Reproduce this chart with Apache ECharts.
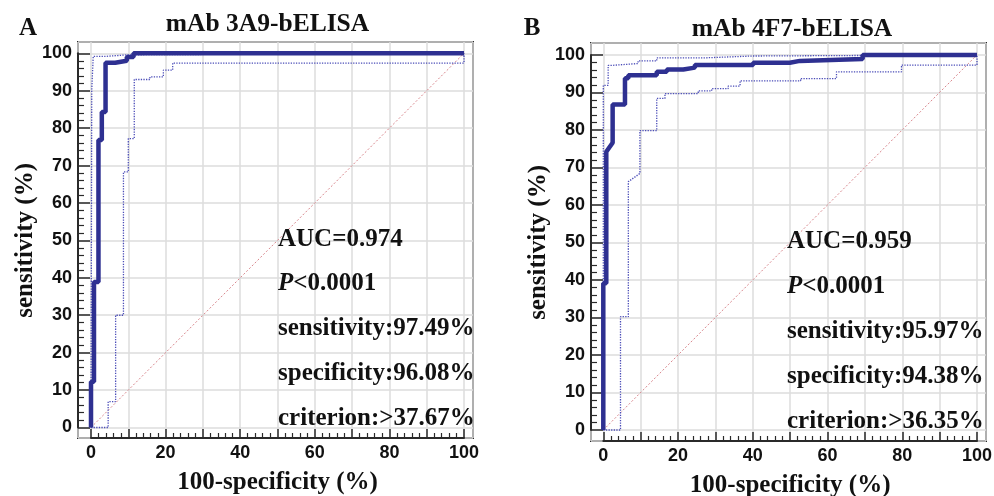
<!DOCTYPE html>
<html><head><meta charset="utf-8">
<script src="https://cdn.jsdelivr.net/npm/echarts@6/dist/echarts.min.js"></script>
<style>html,body{margin:0;padding:0;background:#fff}#c{width:994px;height:496px}</style>
</head><body><div id="c"></div>
<script>
// ---------- data ----------
const panelTitles = ['mAb 3A9-bELISA', 'mAb 4F7-bELISA'];
const panelLetters = ['A', 'B'];
const xTitle = '100-specificity (%)';
const yTitle = 'sensitivity (%)';
const axisMin = 0, axisMax = 100, majorStep = 10, xLabelStep = 20;

// Panel A ROC (100-specificity, sensitivity)
const aRocX = [0, 0, 0.8, 0.8, 2.0, 2.0, 2.9, 2.9, 3.9, 3.9, 6.5, 6.5, 9.6, 9.6, 11.4, 11.4, 100];
const aRocY = [0, 12.2, 12.2, 38.9, 38.9, 76.8, 76.8, 84.3, 84.3, 97.5, 97.5, 98.0, 98.0, 99.0, 99.0, 100, 100];
const aUpperX = [0, 0.2, 0.2, 0.6, 0.6, 4.2, 4.2, 10.0, 10.0, 100];
const aUpperY = [0, 0, 90.1, 90.1, 99.2, 99.2, 99.6, 99.6, 100, 100];
const aLowerX = [0, 4.6, 4.6, 6.6, 6.6, 8.7, 8.7, 10.0, 10.0, 11.6, 11.6, 15.8, 15.8, 19.4, 19.4, 21.9, 21.9, 100, 100];
const aLowerY = [0, 0, 6.9, 6.9, 30.0, 30.0, 68.3, 68.3, 77.2, 77.2, 93.0, 93.0, 93.7, 93.7, 95.5, 95.5, 97.4, 97.4, 100];

// Panel B ROC
const bRocX = [0, 0, 0.8, 0.8, 2.5, 2.5, 5.8, 5.8, 6.7, 6.7, 14.3, 14.3, 17.0, 17.0, 21.4, 21.4, 24.5, 24.5, 40.1, 40.1, 49.9, 49.9, 52.6, 52.6, 69.4, 69.4, 100];
const bRocY = [0, 39.1, 39.1, 74.2, 76.6, 86.8, 86.8, 93.8, 93.8, 94.6, 94.6, 95.5, 95.5, 96.1, 96.1, 96.6, 96.6, 97.3, 97.3, 97.9, 97.9, 98.4, 98.4, 98.9, 98.9, 100, 100];
const bUpperX = [0, 0, 1.3, 1.3, 2.2, 2.2, 9.3, 9.3, 14.3, 14.3, 27.0, 27.0, 40.0, 40.0, 100];
const bUpperY = [0, 91.9, 91.9, 97.2, 97.2, 97.7, 97.7, 98.4, 98.4, 99.2, 99.2, 99.7, 99.7, 100, 100];
const bLowerX = [0, 4.6, 4.6, 6.7, 6.7, 9.8, 9.8, 14.3, 14.3, 16.5, 16.5, 25.4, 25.4, 29.0, 29.0, 33.4, 33.4, 36.6, 36.6, 52.8, 52.8, 62.4, 62.4, 79.8, 79.8, 100, 100];
const bLowerY = [0, 0, 30.2, 30.2, 66.2, 68.4, 79.8, 79.8, 88.4, 88.4, 89.7, 89.7, 90.4, 90.4, 91.0, 91.0, 91.7, 91.7, 93.1, 93.1, 93.7, 93.7, 95.5, 95.5, 97.3, 97.3, 100];

const diagX = [0, 100];
const diagY = [0, 100];

const annotA = ['AUC=0.974', 'P<0.0001', 'sensitivity:97.49%', 'specificity:96.08%', 'criterion:>37.67%'];
const annotB = ['AUC=0.959', 'P<0.0001', 'sensitivity:95.97%', 'specificity:94.38%', 'criterion:>36.35%'];

// ---------- layout / style ----------
// frame: outer plot box; plot: area spanned by 0..100 on both axes
const panels = [
  { frame: { l: 78, t: 42, r: 473, b: 438 }, plot: { l: 91, t: 53.3, r: 464, b: 427.5 },
    roc: [aRocX, aRocY], up: [aUpperX, aUpperY], lo: [aLowerX, aLowerY], annot: annotA,
    annotX: 278, annotY: [240, 284, 329, 374, 419], titleX: 267.5, titleY: 24, letterX: 28, letterY: 29, yGap: 40 },
  { frame: { l: 591, t: 43, r: 986, b: 441 }, plot: { l: 603.3, t: 54.9, r: 977, b: 430 },
    roc: [bRocX, bRocY], up: [bUpperX, bUpperY], lo: [bLowerX, bLowerY], annot: annotB,
    annotX: 787, annotY: [242, 287, 332, 377, 422], titleX: 792, titleY: 29.5, letterX: 532, letterY: 29, yGap: 39 }
];

const SERIF = '"Liberation Serif","Times New Roman",serif';
const SANS = '"Liberation Sans",Arial,sans-serif';
const INK = '#111';
const FRAME = '#2a2a2a';
const MAIN = '#2e3091';
const BAND = '#4b4db8';
const DIAG = '#d9868c';
const GRIDC = '#dcdcdc';
const TITLE_SIZE = 25.5, ANNOT_SIZE = 25;

const zip = (xs, ys) => xs.map((x, i) => [x, ys[i]]);

const grids = [], xAxes = [], yAxes = [], series = [], graphics = [];
panels.forEach((p, gi) => {
  const f = p.frame, d = p.plot;
  const sx = (d.r - d.l) / (axisMax - axisMin), sy = (d.b - d.t) / (axisMax - axisMin);
  const fx = [axisMin - (d.l - f.l) / sx, axisMax + (f.r - d.r) / sx];
  const fy = [axisMin - (f.b - d.b) / sy, axisMax + (d.t - f.t) / sy];
  const fg = gi * 2, dg = gi * 2 + 1;
  // frame grid: border + grid lines across the whole box
  grids.push({ left: f.l, top: f.t, width: f.r - f.l, height: f.b - f.t, show: true,
    borderColor: FRAME, borderWidth: 2, backgroundColor: '#fff', outerBoundsMode: 'none', containLabel: false });
  // data grid: exactly 0..100
  grids.push({ left: d.l, top: d.t, width: d.r - d.l, height: d.b - d.t, show: false,
    outerBoundsMode: 'none', containLabel: false });

  const hiddenAxis = (ext) => ({ type: 'value', min: ext[0], max: ext[1], splitNumber: 10,
    axisLine: { show: false, onZero: false }, axisTick: { show: false }, axisLabel: { show: false },
    splitLine: { show: true, lineStyle: { color: GRIDC, width: 1.5 } } });
  xAxes.push(Object.assign({ gridIndex: fg, position: 'bottom' }, hiddenAxis(fx)));
  yAxes.push(Object.assign({ gridIndex: fg, position: 'left' }, hiddenAxis(fy)));

  xAxes.push({
    gridIndex: dg, type: 'value', position: 'bottom', min: axisMin, max: axisMax, interval: majorStep,
    offset: f.b - d.b,
    axisLine: { show: true, onZero: false, lineStyle: { color: FRAME, width: 2 } },
    axisTick: { show: true, inside: true, length: 9, lineStyle: { color: FRAME, width: 1.5 } },
    minorTick: { show: true, splitNumber: 5, length: 5, lineStyle: { color: FRAME, width: 1.2 } },
    axisLabel: { margin: 6, color: INK, fontFamily: SANS, fontWeight: 'bold', fontSize: 18,
      formatter: v => (v % xLabelStep === 0 ? String(v) : '') },
    splitLine: { show: false },
    name: xTitle, nameLocation: 'middle', nameGap: 32,
    nameTextStyle: { fontFamily: SERIF, fontWeight: 'bold', fontSize: 25, color: INK }
  });
  yAxes.push({
    gridIndex: dg, type: 'value', position: 'left', min: axisMin, max: axisMax, interval: majorStep,
    offset: d.l - f.l,
    axisLine: { show: true, onZero: false, lineStyle: { color: FRAME, width: 2 } },
    axisTick: { show: true, inside: true, length: 12, lineStyle: { color: FRAME, width: 1.5 } },
    minorTick: { show: true, splitNumber: 5, length: 6, lineStyle: { color: FRAME, width: 1.2 } },
    axisLabel: { margin: 6, color: INK, fontFamily: SANS, fontWeight: 'bold', fontSize: 18 },
    splitLine: { show: false },
    name: yTitle, nameLocation: 'middle', nameGap: p.yGap, nameRotate: 90,
    nameTextStyle: { fontFamily: SERIF, fontWeight: 'bold', fontSize: 25, color: INK }
  });

  const base = { type: 'line', xAxisIndex: dg, yAxisIndex: dg, showSymbol: false, symbol: 'none',
    animation: false, silent: true, clip: false };
  series.push(Object.assign({}, base, { data: zip(diagX, diagY), lineStyle: { color: DIAG, width: 1, type: [2, 2] }, z: 2 }));
  series.push(Object.assign({}, base, { data: zip(p.lo[0], p.lo[1]), lineStyle: { color: BAND, width: 1.3, type: 'dotted' }, z: 3 }));
  series.push(Object.assign({}, base, { data: zip(p.up[0], p.up[1]), lineStyle: { color: BAND, width: 1.3, type: 'dotted' }, z: 3 }));
  series.push(Object.assign({}, base, { data: zip(p.roc[0], p.roc[1]), lineStyle: { color: MAIN, width: 4.5 }, z: 4 }));

  graphics.push({ type: 'text', x: p.titleX, y: p.titleY, z: 10,
    style: { text: panelTitles[gi], fontFamily: SERIF, fontWeight: 'bold', fontSize: TITLE_SIZE, fill: INK, align: 'center', verticalAlign: 'middle' } });
  graphics.push({ type: 'text', x: p.letterX, y: p.letterY, z: 10,
    style: { text: panelLetters[gi], fontFamily: SERIF, fontWeight: 'bold', fontSize: 25, fill: INK, align: 'center', verticalAlign: 'middle' } });
  p.annot.forEach((t, k) => {
    const style = { fontFamily: SERIF, fontWeight: 'bold', fontSize: ANNOT_SIZE, fill: INK, align: 'left', verticalAlign: 'middle' };
    if (t.charAt(0) === 'P') {
      style.text = '{i|P}{n|' + t.slice(1) + '}';
      style.rich = {
        i: { fontFamily: SERIF, fontWeight: 'bold', fontStyle: 'italic', fontSize: ANNOT_SIZE, fill: INK },
        n: { fontFamily: SERIF, fontWeight: 'bold', fontSize: ANNOT_SIZE, fill: INK }
      };
    } else {
      style.text = t;
    }
    graphics.push({ type: 'text', x: p.annotX, y: p.annotY[k], z: 10, style });
  });
});

const chart = echarts.init(document.getElementById('c'), null, { renderer: 'canvas' });
chart.setOption({
  animation: false,
  backgroundColor: '#fff',
  grid: grids, xAxis: xAxes, yAxis: yAxes, series: series, graphic: graphics
});
</script>
</body></html>
